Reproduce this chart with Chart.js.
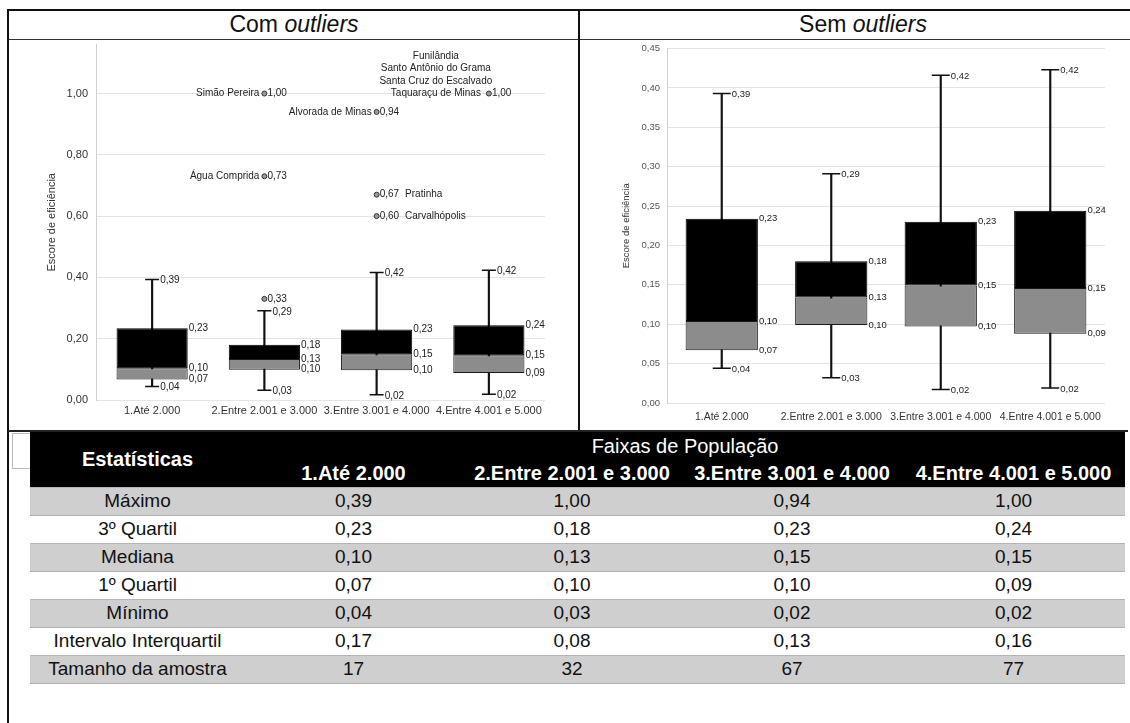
<!DOCTYPE html>
<html>
<head>
<meta charset="utf-8">
<script src="https://cdn.jsdelivr.net/npm/chart.js@4.4.1/dist/chart.umd.min.js"></script>
<style>
  html, body { margin: 0; padding: 0; background: #fff; overflow: hidden; }
  body { width: 1130px; height: 723px; position: relative; font-family: "Liberation Sans", Arial, sans-serif; }
  .abs { position: absolute; }
  .line { position: absolute; background: #111; }
  .hdr { position: absolute; top: 10px; height: 29px; line-height: 29px; text-align: center; font-size: 23px; color: #111; }
  #tbl { position: absolute; left: 30px; top: 432px; width: 1095px; border-collapse: collapse; table-layout: fixed; }
  #tbl th { background: #000; color: #fff; font-weight: bold; font-size: 20px; padding: 0; white-space: nowrap; }
  #tbl td { font-size: 19px; color: #111; text-align: center; padding: 0; height: 27px; white-space: nowrap; }
  #tbl tr.g td { background: #cfcfcf; border-top: 1px solid #b5b5b5; border-bottom: 1px solid #b0b0b0; }
</style>
</head>
<body>

<div class="line" style="left:8px; top:9px; width:1122px; height:2px;"></div>
<div class="line" style="left:8px; top:39px; width:1122px; height:1px; background:#333;"></div>
<div class="line" style="left:7px; top:9px; width:2px; height:714px;"></div>
<div class="line" style="left:578px; top:9px; width:2px; height:422px;"></div>
<div class="line" style="left:8px; top:430px; width:1120px; height:2px; background:#222;"></div>
<div class="abs" style="left:12px; top:433px; width:17px; height:34px; border:1px solid #bbb; background:#fff;"></div>

<div class="hdr" style="left:10px; width:568px;">Com <i>outliers</i></div>
<div class="hdr" style="left:580px; width:566px;">Sem <i>outliers</i></div>

<canvas id="chartCom" class="abs" style="left:10px; top:36px;" width="566" height="394"></canvas>
<canvas id="chartSem" class="abs" style="left:582px; top:38px;" width="546" height="392"></canvas>

<table id="tbl"></table>

<script>
// categorias (faixas de população)
const categories = ['1.Até 2.000', '2.Entre 2.001 e 3.000', '3.Entre 3.001 e 4.000', '4.Entre 4.001 e 5.000'];

// valores das caixas
const minV = [0.044, 0.032, 0.017, 0.019];
const q1V  = [0.067, 0.099, 0.097, 0.088];
const medV = [0.104, 0.134, 0.149, 0.146];
const q3V  = [0.234, 0.180, 0.230, 0.244];
const maxV = [0.393, 0.291, 0.416, 0.423];

// outliers (só no gráfico da esquerda)
const outlierCats = [categories[1], categories[1], categories[1], categories[2], categories[2], categories[2], categories[3]];
const outlierVals = [1.00, 0.73, 0.33, 0.94, 0.67, 0.60, 1.00];
const outlierNames = [
  ['Simão Pereira'],
  ['Água Comprida'],
  [],
  ['Alvorada de Minas'],
  ['Pratinha'],
  ['Carvalhópolis'],
  ['Funilândia', 'Santo Antônio do Grama', 'Santa Cruz do Escalvado', 'Taquaraçu de Minas']
];
const outlierSide = ['left', 'left', 'left', 'left', 'right', 'right', 'left'];

// tabela
const statNames = ['Máximo', '3º Quartil', 'Mediana', '1º Quartil', 'Mínimo', 'Intervalo Interquartil', 'Tamanho da amostra'];
const tabMax = [0.39, 1.00, 0.94, 1.00];
const tabQ3  = [0.23, 0.18, 0.23, 0.24];
const tabMed = [0.10, 0.13, 0.15, 0.15];
const tabQ1  = [0.07, 0.10, 0.10, 0.09];
const tabMin = [0.04, 0.03, 0.02, 0.02];
const tabIqr = [0.17, 0.08, 0.13, 0.16];
const tabN   = [17, 32, 67, 77];

const fmt = v => v.toFixed(2).replace('.', ',');
const FONT = '"Liberation Sans", Arial, sans-serif';

// rótulos de valores ao lado das caixas, bigodes e outliers
const boxLabels = {
  id: 'boxLabels',
  afterDatasetsDraw(chart, args, opts) {
    const ctx = chart.ctx;
    ctx.save();
    ctx.font = opts.size + 'px ' + FONT;
    ctx.fillStyle = '#222';
    ctx.textBaseline = 'middle';
    ctx.textAlign = 'left';
    chart.data.datasets.forEach((ds, di) => {
      const meta = chart.getDatasetMeta(di);
      meta.data.forEach((el, i) => {
        const v = ds.data[i];
        if (ds.labelKind === 'boxTop') {
          ctx.fillText(fmt(v[1]), el.x + el.width / 2 + 1, el.y);
        } else if (ds.labelKind === 'boxBoth') {
          ctx.fillText(fmt(v[1]), el.x + el.width / 2 + 1, el.y);
          ctx.fillText(fmt(v[0]), el.x + el.width / 2 + 1, el.base);
        } else if (ds.labelKind === 'cap') {
          ctx.fillText(fmt(v), el.x + ds.pointRadius + 1, el.y + 1);
        } else if (ds.labelKind === 'outlier') {
          const val = fmt(v.y);
          ctx.textAlign = 'left';
          ctx.fillText(val, el.x + 3, el.y);
          const names = outlierNames[i];
          if (!names.length) return;
          if (outlierSide[i] === 'right') {
            ctx.fillText(names[0], el.x + 3 + ctx.measureText(val).width + 6, el.y);
          } else if (names.length === 1) {
            ctx.textAlign = 'right';
            ctx.fillText(names[0], el.x - 5, el.y);
          } else {
            const last = names[names.length - 1];
            const cx = el.x - 8 - ctx.measureText(last).width / 2;
            ctx.textAlign = 'center';
            names.forEach((n, k) => {
              ctx.fillText(n, cx, el.y - (names.length - 1 - k) * 12.5);
            });
          }
          ctx.textAlign = 'left';
        }
      });
    });
    ctx.restore();
  }
};

function makeChart(id, cfg) {
  const datasets = [
    {
      type: 'bar', data: categories.map((c, i) => [medV[i], q3V[i]]),
      backgroundColor: '#000', borderColor: '#000', borderWidth: 1, borderSkipped: false,
      grouped: false, barPercentage: cfg.barPct, categoryPercentage: 1, labelKind: 'boxTop'
    },
    {
      type: 'bar', data: categories.map((c, i) => [q1V[i], medV[i]]),
      backgroundColor: '#8c8c8c', borderColor: '#1a1a1a', borderWidth: 1, borderSkipped: false,
      grouped: false, barPercentage: cfg.barPct, categoryPercentage: 1, labelKind: 'boxBoth'
    },
    {
      type: 'bar', data: categories.map((c, i) => [minV[i], maxV[i]]),
      backgroundColor: '#111', barThickness: 1.5, grouped: false
    },
    {
      type: 'line', data: maxV, showLine: false, pointStyle: 'line', pointRadius: cfg.capR,
      pointHoverRadius: cfg.capR, pointBorderColor: '#111', pointBorderWidth: 1.5, labelKind: 'cap'
    },
    {
      type: 'line', data: minV, showLine: false, pointStyle: 'line', pointRadius: cfg.capR,
      pointHoverRadius: cfg.capR, pointBorderColor: '#111', pointBorderWidth: 1.5, labelKind: 'cap'
    }
  ];
  if (cfg.outliers) {
    datasets.push({
      type: 'line', data: outlierCats.map((c, i) => ({ x: c, y: outlierVals[i] })), showLine: false,
      pointStyle: 'circle', pointRadius: 2.5, pointHoverRadius: 2.5,
      pointBackgroundColor: '#9a9a9a', pointBorderColor: '#333', pointBorderWidth: 1, labelKind: 'outlier'
    });
  }

  return new Chart(document.getElementById(id), {
    type: 'bar',
    data: { labels: categories, datasets: datasets },
    plugins: [boxLabels],
    options: {
      responsive: false,
      animation: false,
      layout: { padding: cfg.padding },
      plugins: {
        legend: { display: false },
        tooltip: { enabled: false },
        boxLabels: { size: cfg.labelSize }
      },
      scales: {
        x: {
          grid: { display: false, drawTicks: false },
          border: { display: false },
          ticks: { padding: cfg.xPad, maxRotation: 0, autoSkip: false, color: '#333', font: { size: cfg.xFont, family: FONT } },
          afterFit: s => { s.height = cfg.xHeight; s.paddingLeft = 0; s.paddingRight = 0; }
        },
        y: {
          min: 0, max: cfg.yMax,
          ticks: {
            stepSize: cfg.step, padding: cfg.yPad, color: cfg.tickColor,
            font: { size: cfg.yFont, family: FONT },
            callback: v => fmt(v)
          },
          afterBuildTicks: s => { s.ticks = s.ticks.filter(t => t.value <= cfg.lastTick + 1e-6); },
          grid: { color: '#e4e4e4', drawTicks: false },
          border: { display: true, color: '#d0d0d0' },
          title: {
            display: true, text: 'Escore de eficiência', color: '#333',
            font: { size: cfg.titleFont, family: FONT }, padding: { top: cfg.titlePad, bottom: 0 }
          },
          afterFit: s => { s.width = cfg.yWidth; s.paddingTop = 0; s.paddingBottom = 0; }
        }
      }
    }
  });
}

makeChart('chartCom', {
  outliers: true, barPct: 0.634, capR: 7, labelSize: 10,
  padding: { left: 0, right: 31, top: 3, bottom: 0 },
  xPad: 4, xFont: 11, xHeight: 30,
  yMax: 1.16, step: 0.2, lastTick: 1.0, yPad: 8, yFont: 11, tickColor: '#333',
  titleFont: 11, titlePad: 35, yWidth: 86
});

makeChart('chartSem', {
  outliers: false, barPct: 0.66, capR: 9, labelSize: 9.5,
  padding: { left: 0, right: 23, top: 6, bottom: 0 },
  xPad: 8, xFont: 10.5, xHeight: 27,
  yMax: 0.45, step: 0.05, lastTick: 0.45, yPad: 7, yFont: 9.5, tickColor: '#555',
  titleFont: 9.5, titlePad: 39, yWidth: 85
});

// tabela de estatísticas
const tbl = document.getElementById('tbl');
let html = '<colgroup><col style="width:215px"><col style="width:217px"><col style="width:220px"><col style="width:220px"><col style="width:223px"></colgroup>';
html += '<tr style="height:28px"><th rowspan="2">Estatísticas</th><th colspan="4" style="font-weight:normal">Faixas de População</th></tr>';
html += '<tr style="height:27px">' + categories.map(c => '<th>' + c + '</th>').join('') + '</tr>';
const rows = [tabMax, tabQ3, tabMed, tabQ1, tabMin, tabIqr, tabN];
rows.forEach((r, k) => {
  const cells = r.map(v => '<td>' + (k === 6 ? v : fmt(v)) + '</td>').join('');
  html += '<tr class="' + (k % 2 === 0 ? 'g' : '') + '"><td>' + statNames[k] + '</td>' + cells + '</tr>';
});
tbl.innerHTML = html;
</script>
</body>
</html>
